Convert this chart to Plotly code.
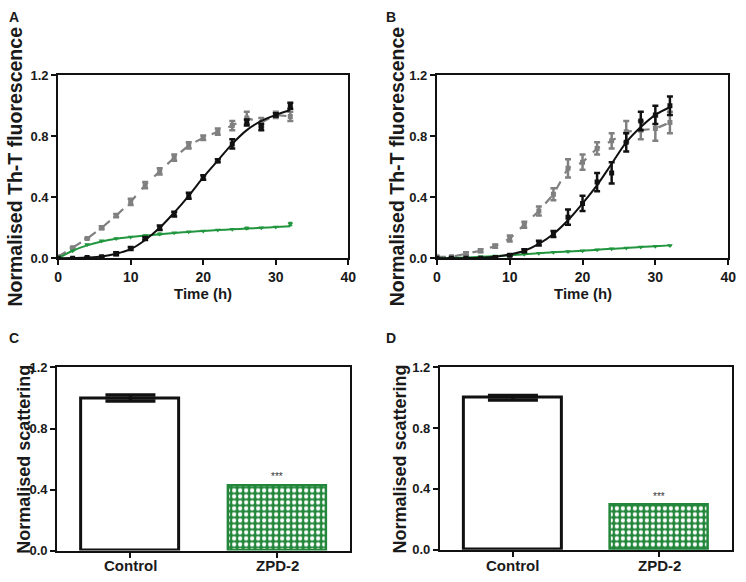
import plotly.graph_objects as go

W, H = 746, 582

# ---- data ----
time_h = [0, 2, 4, 6, 8, 10, 12, 14, 16, 18, 20, 22, 24, 26, 28, 30, 32]

# panel A
a_black = [0.0, 0.0, 0.005, 0.01, 0.03, 0.065, 0.13, 0.2, 0.29, 0.41, 0.53, 0.64, 0.75, 0.89, 0.86, 0.94, 1.0]
a_black_err = [0.0, 0.0, 0.0, 0.0, 0.01, 0.01, 0.01, 0.015, 0.015, 0.02, 0.015, 0.01, 0.03, 0.02, 0.02, 0.01, 0.02]
a_black_fit = [0.0, 0.002, 0.005, 0.012, 0.03, 0.06, 0.12, 0.2, 0.3, 0.41, 0.53, 0.64, 0.75, 0.84, 0.9, 0.94, 0.97]
a_gray = [0.01, 0.07, 0.13, 0.2, 0.28, 0.37, 0.48, 0.57, 0.66, 0.74, 0.79, 0.83, 0.87, 0.92, 0.89, 0.94, 0.93]
a_gray_err = [0.0, 0.0, 0.0, 0.01, 0.01, 0.02, 0.02, 0.02, 0.02, 0.02, 0.015, 0.02, 0.03, 0.04, 0.03, 0.02, 0.03]
a_green = [0.01, 0.05, 0.09, 0.115, 0.13, 0.14, 0.15, 0.16, 0.168, 0.175, 0.18, 0.186, 0.19, 0.198, 0.2, 0.205, 0.225]
a_green_err = [0.0, 0.0, 0.0, 0.0, 0.0, 0.0, 0.0, 0.005, 0.0, 0.0, 0.0, 0.0, 0.0, 0.005, 0.0, 0.0, 0.01]
a_green_fit = [0.0, 0.05, 0.085, 0.11, 0.128, 0.14, 0.15, 0.158, 0.166, 0.173, 0.179, 0.185, 0.19, 0.195, 0.2, 0.205, 0.21]

# panel B
b_black = [0.0, 0.0, 0.0, 0.0, 0.005, 0.02, 0.05, 0.1, 0.16, 0.27, 0.36, 0.5, 0.56, 0.76, 0.9, 0.94, 1.0]
b_black_err = [0.0, 0.0, 0.0, 0.0, 0.0, 0.005, 0.01, 0.015, 0.02, 0.05, 0.05, 0.06, 0.07, 0.06, 0.06, 0.06, 0.06]
b_black_fit = [0.0, 0.0, 0.002, 0.004, 0.01, 0.025, 0.05, 0.095, 0.16, 0.25, 0.36, 0.48, 0.62, 0.76, 0.86, 0.94, 0.99]
b_gray = [0.01, 0.01, 0.03, 0.05, 0.08, 0.13, 0.22, 0.31, 0.42, 0.59, 0.63, 0.72, 0.77, 0.83, 0.84, 0.85, 0.89]
b_gray_err = [0.0, 0.0, 0.01, 0.01, 0.01, 0.02, 0.02, 0.03, 0.04, 0.06, 0.05, 0.04, 0.05, 0.07, 0.06, 0.08, 0.07]
b_green = [0.0, 0.003, 0.006, 0.01, 0.015, 0.02, 0.027, 0.033, 0.04, 0.045, 0.05, 0.057, 0.063, 0.068, 0.075, 0.08, 0.085]
b_green_err = [0.0] * 17
b_green_fit = [0.0, 0.003, 0.006, 0.01, 0.015, 0.02, 0.027, 0.033, 0.04, 0.045, 0.05, 0.057, 0.063, 0.068, 0.075, 0.08, 0.085]

# panels C and D
groups = ['Control', 'ZPD-2']
c_values = [1.0, 0.43]
c_control_err = 0.02
d_values = [1.0, 0.30]
d_control_err = 0.015

y_ticks = [0.0, 0.4, 0.8, 1.2]
x_ticks = [0, 10, 20, 30, 40]

BLACK = '#111111'
GRAY = '#808080'
GREEN = '#22963f'
BAR_GREEN = '#22873a'
FONT = 'Liberation Sans, Arial, sans-serif'
TEXT = '#1a1a1a'


def px_x(p):
    return p / W


def px_y(p):
    return 1 - p / H


fig = go.Figure()


def kinetic(xa, ya, black, black_err, black_fit, gray, gray_err, green, green_err, green_fit):
    # gray series: dashed line through the means
    fig.add_trace(go.Scatter(
        x=time_h, y=gray, xaxis=xa, yaxis=ya, mode='lines+markers',
        line=dict(color=GRAY, width=2.2, dash='dash'),
        marker=dict(symbol='square', size=5, color=GRAY),
        error_y=dict(array=gray_err, color=GRAY, thickness=2.5, width=3),
        showlegend=False))
    # green fit + points
    fig.add_trace(go.Scatter(
        x=time_h, y=green_fit, xaxis=xa, yaxis=ya, mode='lines',
        line=dict(color=GREEN, width=2, shape='spline'), showlegend=False))
    fig.add_trace(go.Scatter(
        x=time_h, y=green, xaxis=xa, yaxis=ya, mode='markers',
        marker=dict(symbol='triangle-down', size=5, color=GREEN),
        error_y=dict(array=green_err, color=GREEN, thickness=1.5, width=2),
        showlegend=False))
    # black fit + points
    fig.add_trace(go.Scatter(
        x=time_h, y=black_fit, xaxis=xa, yaxis=ya, mode='lines',
        line=dict(color=BLACK, width=2, shape='spline'), showlegend=False))
    fig.add_trace(go.Scatter(
        x=time_h, y=black, xaxis=xa, yaxis=ya, mode='markers',
        marker=dict(symbol='square', size=5, color=BLACK),
        error_y=dict(array=black_err, color=BLACK, thickness=2.5, width=3),
        showlegend=False))


kinetic('x', 'y', a_black, a_black_err, a_black_fit, a_gray, a_gray_err,
        a_green, a_green_err, a_green_fit)
kinetic('x2', 'y2', b_black, b_black_err, b_black_fit, b_gray, b_gray_err,
        b_green, b_green_err, b_green_fit)


def bars(xa, ya, values, control_err):
    fig.add_trace(go.Bar(
        x=groups, y=values, xaxis=xa, yaxis=ya, width=0.67,
        marker=dict(
            color=['white', BAR_GREEN],
            line=dict(color=[BLACK, BAR_GREEN], width=[3, 2.5]),
            pattern=dict(shape=['', '.'], fgcolor='white', fgopacity=1,
                         size=6, solidity=0.4, fillmode='overlay'),
        ),
        showlegend=False))
    # error bar on the control bar only
    fig.add_trace(go.Scatter(
        x=groups[:1], y=values[:1], xaxis=xa, yaxis=ya, mode='markers',
        marker=dict(size=1, color=BLACK),
        error_y=dict(array=[control_err], color=BLACK, thickness=3.5, width=25),
        showlegend=False))
    fig.add_annotation(x=groups[1], y=values[1], xref=xa, yref=ya, text='***',
                       showarrow=False, yshift=8,
                       font=dict(family=FONT, size=10, color='#333333'))
    for g in groups:
        fig.add_annotation(x=g, y=px_y(573), xref=xa, yref='paper', text=g,
                           showarrow=False, yanchor='middle',
                           font=dict(family=FONT, size=15, color=TEXT, weight='bold'))


bars('x3', 'y3', c_values, c_control_err)
bars('x4', 'y4', d_values, d_control_err)

axis_common = dict(showline=True, linewidth=2, linecolor=BLACK, mirror=True,
                   ticks='outside', ticklen=5, tickwidth=2, tickcolor=BLACK,
                   showgrid=False, zeroline=False,
                   tickfont=dict(family=FONT, size=13, color=TEXT, weight='bold'))

y_axis = dict(axis_common, range=[0, 1.2], tickvals=y_ticks, tickformat='.1f')
x_time = dict(axis_common, range=[0, 40], tickvals=x_ticks,
              tickfont=dict(family=FONT, size=14, color=TEXT, weight='bold'))
x_cat = dict(axis_common, type='category', range=[-0.5, 1.5], showticklabels=False)

fig.update_layout(
    width=W, height=H,
    margin=dict(l=0, r=0, t=0, b=0),
    paper_bgcolor='white', plot_bgcolor='white',
    bargap=0,
    xaxis=dict(x_time, domain=[px_x(55), px_x(350)], anchor='y'),
    yaxis=dict(y_axis, domain=[px_y(258), px_y(70)], anchor='x'),
    xaxis2=dict(x_time, domain=[px_x(440), px_x(736)], anchor='y2'),
    yaxis2=dict(y_axis, domain=[px_y(258), px_y(70)], anchor='x2'),
    xaxis3=dict(x_cat, domain=[px_x(54), px_x(352)], anchor='y3'),
    yaxis3=dict(y_axis, domain=[px_y(558), px_y(370)], anchor='x3'),
    xaxis4=dict(x_cat, domain=[px_x(443), px_x(740)], anchor='y4'),
    yaxis4=dict(y_axis, domain=[px_y(557), px_y(370)], anchor='x4'),
)

fluor_font = dict(family=FONT, size=19.5, color=TEXT, weight='bold')
scat_font = dict(family=FONT, size=18, color=TEXT, weight='bold')
label_font = dict(family=FONT, size=14, color=TEXT, weight='bold')

texts = [
    ('A', 10, 10, label_font, 0),
    ('B', 393, 10, label_font, 0),
    ('C', 10, 340, label_font, 0),
    ('D', 393, 340, label_font, 0),
    ('Time (h)', 202, 294, dict(label_font, size=15), 0),
    ('Time (h)', 588, 294, dict(label_font, size=15), 0),
    ('Normalised Th-T fluorescence', 11, 164, fluor_font, -90),
    ('Normalised Th-T fluorescence', 399, 164, fluor_font, -90),
    ('Normalised scattering', 20, 464, scat_font, -90),
    ('Normalised scattering', 403, 464, scat_font, -90),
]
for txt, x, y, f, ang in texts:
    fig.add_annotation(x=px_x(x), y=px_y(y), xref='paper', yref='paper',
                       text=txt, showarrow=False, textangle=ang, font=f,
                       xanchor='center', yanchor='middle')

# drop the default 8px page margin so the figure sits at the window's corner
fig.write_html("out.html", config={'displayModeBar': False},
               post_script="document.body.style.margin='0';")
